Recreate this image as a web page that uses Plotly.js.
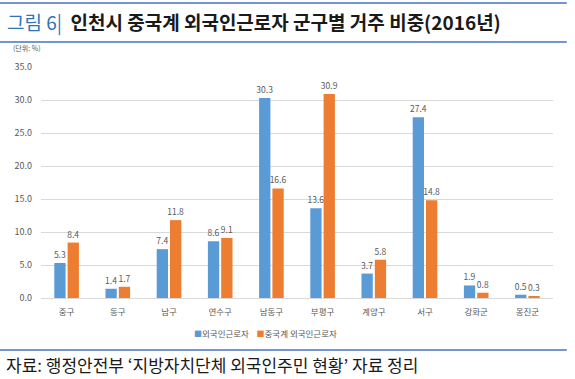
<!DOCTYPE html>
<html><head><meta charset="utf-8">
<script src="https://cdn.plot.ly/plotly-3.0.1.min.js"></script>
<style>html,body{margin:0;padding:0;background:#fff;}#chart{width:575px;height:379px;}</style>
</head><body><div id="chart"></div>
<script>
const categories = ['중구','동구','남구','연수구','남동구','부평구','계양구','서구','강화군','옹진군'];
const foreignWorkers = [5.3,1.4,7.4,8.6,30.3,13.6,3.7,27.4,1.9,0.5];
const chineseWorkers = [8.4,1.7,11.8,9.1,16.6,30.9,5.8,14.8,0.8,0.3];
const seriesNames = ['외국인근로자','중국계 외국인근로자'];
const seriesColors = ['#5B9BD5','#ED7D31'];
const yTicks = [0,5,10,15,20,25,30,35];

const fontFam = '"Noto Sans CJK KR", "Noto Sans", sans-serif';
const lblFont = {family: fontFam, size: 8.5, color: '#595959'};

const traces = [foreignWorkers, chineseWorkers].map((vals,i)=>({
  type:'bar', name: seriesNames[i], x: categories, y: vals,
  marker:{color: seriesColors[i]}, text: vals.map(v=>v.toFixed(1)),
  textposition:'outside', textfont: lblFont, cliponaxis:false, constraintext:'none'
}));

const legendText = seriesNames.map((n,i)=>'<span style="color:'+seriesColors[i]+';font-size:8px">■</span>'+n).join('    ');

const layout = {
  width:575, height:379,
  margin:{l:41, r:22, t:67, b:81},
  paper_bgcolor:'#fff', plot_bgcolor:'#fff',
  barmode:'group', bargap:0.48, bargroupgap:0.15,
  showlegend:false,
  xaxis:{tickfont:{family:fontFam, size:8.5, color:'#595959'}, showline:true, linecolor:'#D9D9D9',
         ticks:'', ticklabelstandoff:6, fixedrange:true},
  yaxis:{range:[0,35], tickvals:yTicks, ticktext:yTicks.map(v=>v.toFixed(1)),
         tickfont:{family:fontFam, size:9, color:'#595959'}, gridcolor:'#D9D9D9', gridwidth:1,
         zeroline:false, ticks:'', ticklen:0, ticklabelstandoff:8, automargin:false},
  font:{family:fontFam},
  shapes:[
    {type:'line', xref:'paper', yref:'paper', x0:-0.08, x1:1.027, y0:1.277, y1:1.277, line:{color:'#4472C4', width:1.5}},
    {type:'line', xref:'paper', yref:'paper', x0:-0.08, x1:1.027, y0:1.108, y1:1.108, line:{color:'#4472C4', width:1.5}},
    {type:'line', xref:'paper', yref:'paper', x0:-0.08, x1:1.027, y0:-0.225, y1:-0.225, line:{color:'#4472C4', width:1.5}}
  ],
  annotations:[
    {xref:'paper', yref:'paper', x:-0.07, y:1.195, xanchor:'left', yanchor:'middle', showarrow:false,
     text:'<span style="color:#2E75B6">그림 6|</span>  <b>인천시 중국계 외국인근로자 군구별 거주 비중(2016년)</b>',
     font:{family:fontFam, size:19, color:'#1a1a1a'}},
    {xref:'paper', yref:'paper', x:-0.058, y:1.082, xanchor:'left', yanchor:'middle', showarrow:false,
     text:'(단위: %)', font:{family:fontFam, size:7, color:'#595959'}},
    {xref:'paper', yref:'paper', x:0.4375, y:-0.152, xanchor:'center', yanchor:'middle', showarrow:false,
     text: legendText, font:{family:fontFam, size:8.5, color:'#595959'}},
    {xref:'paper', yref:'paper', x:-0.072, y:-0.29, xanchor:'left', yanchor:'middle', showarrow:false,
     text:'자료: 행정안전부 ‘지방자치단체 외국인주민 현황’ 자료 정리',
     font:{family:fontFam, size:17, color:'#1a1a1a'}}
  ]
};
Plotly.newPlot('chart', traces, layout, {displayModeBar:false, staticPlot:true});
</script></body></html>
